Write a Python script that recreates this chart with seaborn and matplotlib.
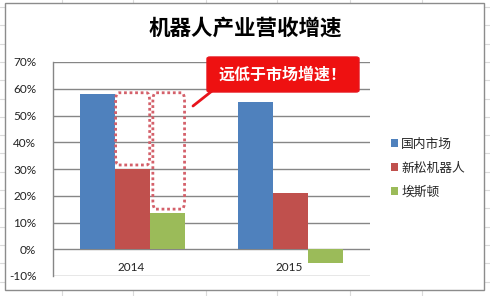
import matplotlib
matplotlib.use("Agg")
import matplotlib.pyplot as plt
import seaborn as sns
import pandas as pd
from matplotlib.patches import FancyBboxPatch, Rectangle, Patch
from matplotlib.lines import Line2D
from matplotlib.ticker import FuncFormatter, MultipleLocator

# ---- data ----
years = ["2014", "2015"]
series = ["国内市场", "新松机器人", "埃斯顿"]
domestic = [0.58, 0.55]
siasun = [0.30, 0.21]
estun = [0.135, -0.05]
colors = ["#4F81BD", "#C0504D", "#9BBB59"]
title = "机器人产业营收增速"
callout = "远低于市场增速！"

rows = []
for s, vals in zip(series, [domestic, siasun, estun]):
    for y, v in zip(years, vals):
        rows.append({"year": y, "series": s, "value": v})
df = pd.DataFrame(rows)

sns.set_theme(style="white")
plt.rcParams["font.family"] = ["Noto Sans CJK SC", "DejaVu Sans"]
plt.rcParams["axes.unicode_minus"] = False

W, H = 490, 296
fig = plt.figure(figsize=(W / 100, H / 100), dpi=100)
fig.patch.set_facecolor("white")

# spreadsheet gridlines behind the chart
for x in [62, 133, 206, 277, 350, 422]:
    fig.add_artist(Line2D([x / W, x / W], [0, 1], color="#dadada", lw=0.8, zorder=0))
for k in range(18):
    y = 7 + 18.3 * k
    fig.add_artist(Line2D([0, 1], [1 - y / H, 1 - y / H], color="#dadada", lw=0.8, zorder=0))
# chart frame
fig.add_artist(Rectangle((5 / W, 1 - 290 / H), 479 / W, 287 / H, transform=fig.transFigure,
                         facecolor="white", edgecolor="#8c8c8c", lw=1.0, zorder=0.5))

ax = fig.add_axes([53 / W, 1 - 276 / H, (370 - 53) / W, (276 - 62) / H])
ax.set_zorder(1)
ax.patch.set_alpha(0)

sns.barplot(data=df, x="year", y="value", hue="series", hue_order=series, order=years,
            palette=colors, width=0.66, saturation=1, gap=0, ax=ax, legend=False,
            zorder=3, linewidth=0)

ax.set_ylim(-0.10, 0.70)
ax.set_xlim(-0.5, 1.5)
ax.yaxis.set_major_locator(MultipleLocator(0.10))
ax.yaxis.set_major_formatter(FuncFormatter(lambda v, p: f"{round(v * 100):d}%"))
ax.grid(axis="y", color="#868686", lw=1.0, zorder=0)
ax.set_axisbelow(True)
for s in ["top", "right", "bottom"]:
    ax.spines[s].set_visible(False)
ax.spines["left"].set_color("#868686")
ax.spines["left"].set_linewidth(1.0)
ax.tick_params(axis="y", length=0, pad=12, labelsize=8.5, labelcolor="#222222")
for lab in ax.get_yticklabels():
    lab.set_fontfamily(["Lato", "DejaVu Sans"])
ax.set_xticks([])
ax.set_xlabel("")
ax.set_ylabel("")
for i, y in enumerate(years):
    ax.text(i - 0.01, -0.067, y, ha="center", va="center", fontsize=8.5,
            family=["Lato", "DejaVu Sans"], color="#222222")

# dotted rounded boxes
dot_col = "#d4606a"
for (x0, x1, y0, y1) in [(-0.105, 0.11, 0.315, 0.585), (0.13, 0.33, 0.15, 0.585)]:
    ax.add_patch(FancyBboxPatch((x0, y0), x1 - x0, y1 - y0,
                                boxstyle="round,pad=0,rounding_size=0.02",
                                fill=False, edgecolor=dot_col, lw=2.0,
                                linestyle=(0, (1, 1)), zorder=5,
                                mutation_aspect=1.7 / 0.8 * 0.8))

# callout
fig.add_artist(Line2D([193 / W, 212 / W], [1 - 106 / H, 1 - 91 / H], color="#e8141c",
                      lw=2.0, zorder=6, solid_capstyle="round"))
fig.add_artist(FancyBboxPatch((207 / W, 1 - 92 / H), 152 / W, 35 / H,
                              boxstyle="round,pad=0,rounding_size=0.006",
                              transform=fig.transFigure, facecolor="#ee1111",
                              edgecolor="#e8141c", lw=1, zorder=6))
fig.text(283 / W, 1 - 75 / H, callout, ha="center", va="center", color="white",
         fontsize=11.5, fontweight="bold", zorder=7)

# title
fig.text(245 / W, 1 - 28 / H, title, ha="center", va="center", fontsize=15.5,
         fontweight="bold", color="black")

# legend
handles = [Patch(facecolor=c, edgecolor="none") for c in colors]
leg = fig.legend(handles, series, loc="center left", bbox_to_anchor=(386 / W, 1 - 168 / H),
                 frameon=False, fontsize=9.2, handlelength=0.55, handleheight=0.55,
                 handletextpad=0.25, labelspacing=0.85, borderaxespad=0)

fig.savefig("out.png", dpi=100, facecolor="white")
